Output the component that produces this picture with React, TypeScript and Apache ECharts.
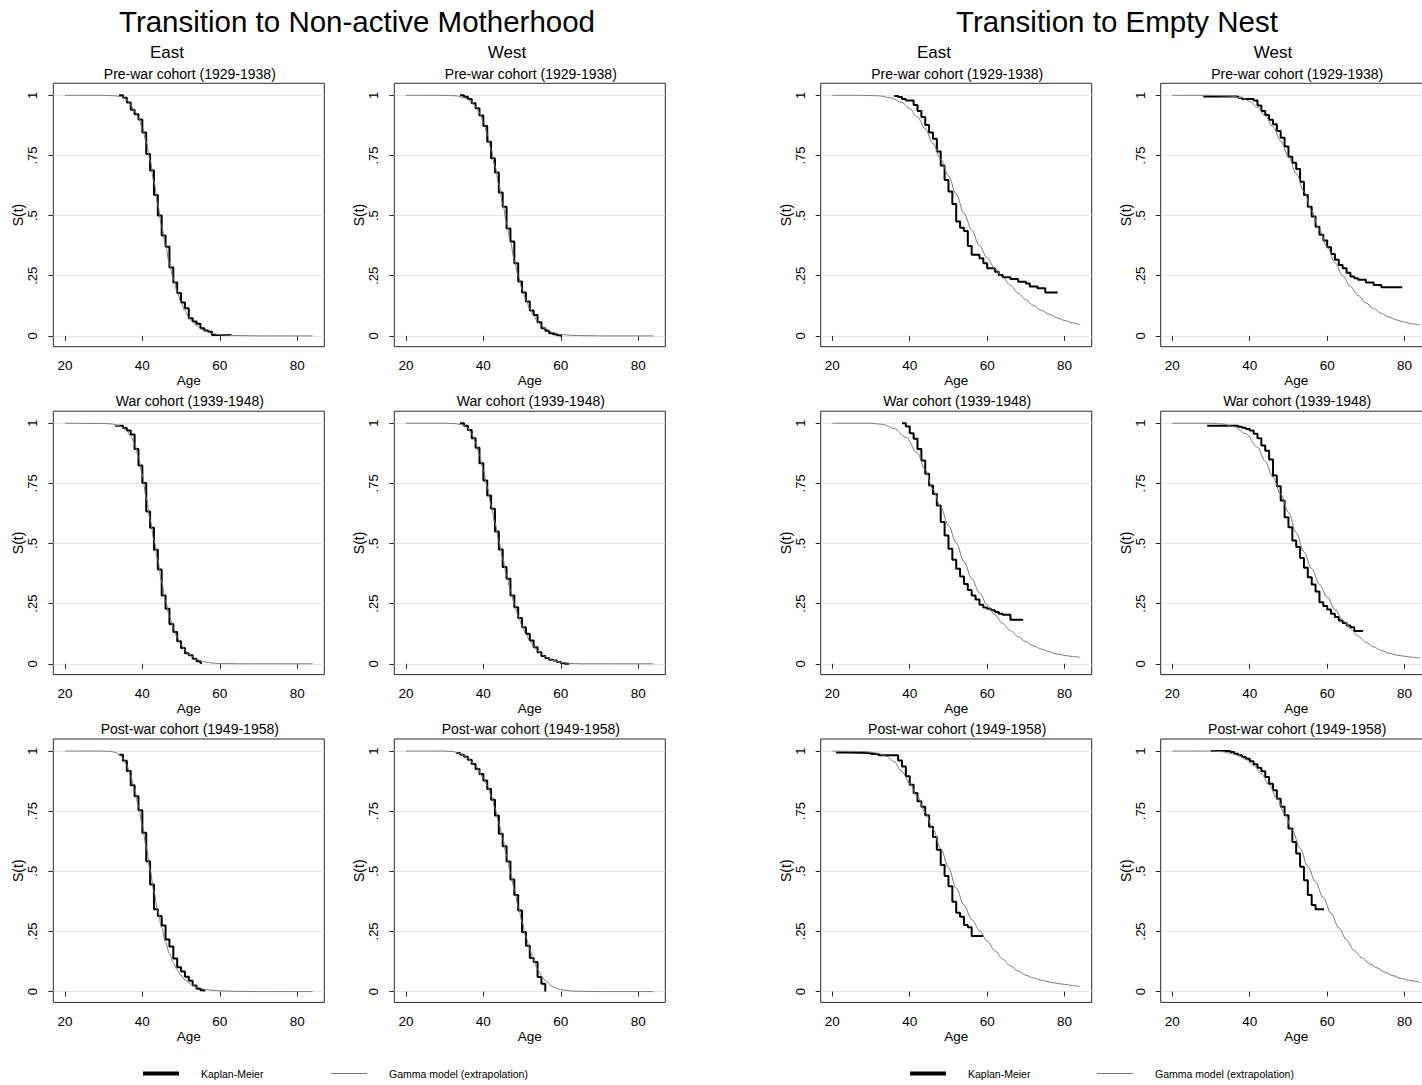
import React, { useEffect, useRef } from 'react';
import * as echarts from 'echarts';

// ---------------- data ----------------
const ageTicks = [20, 40, 60, 80];
const survivalTicks = [0, 0.25, 0.5, 0.75, 1];
const blockTitles = ['Transition to Non-active Motherhood', 'Transition to Empty Nest'];
const regionNames = ['East', 'West', 'East', 'West'];
const cohortNames = ['Pre-war cohort (1929-1938)', 'War cohort (1939-1948)', 'Post-war cohort (1949-1958)'];
const seriesNames = ['Kaplan-Meier', 'Gamma model (extrapolation)'];

// Non-active motherhood, East
const kmMotherEastPre = [[34,1],[35,0.99],[36,0.97],[37,0.94],[38,0.921],[39,0.9],[40,0.845],[41,0.756],[42,0.687],[43,0.586],[44,0.5],[45,0.417],[46,0.371],[47,0.284],[48,0.222],[49,0.178],[50,0.139],[51,0.115],[52,0.073],[53,0.06],[54,0.05],[55,0.032],[56,0.022],[57,0.017],[58,0.004],[63,0.004]];
const gammaMotherEastPre = [[20,1],[30,1],[33,0.998],[35,0.993],[36,0.982],[37,0.96],[38,0.935],[39,0.905],[40,0.865],[41,0.805],[42,0.73],[43,0.64],[44,0.545],[45,0.455],[46,0.375],[47,0.3],[48,0.237],[49,0.183],[50,0.14],[51,0.105],[52,0.078],[53,0.058],[54,0.042],[55,0.03],[56,0.021],[58,0.01],[60,0.005],[63,0.002],[66,0.001],[70,0],[84,0]];
const kmMotherEastWar = [[33,0.99],[35,0.98],[36,0.97],[37,0.953],[38,0.893],[39,0.824],[40,0.752],[41,0.633],[42,0.566],[43,0.474],[44,0.392],[45,0.284],[46,0.229],[47,0.165],[48,0.132],[49,0.094],[50,0.066],[51,0.044],[52,0.035],[53,0.021],[54,0.011],[55,0.003],[55.4,0.003]];
const gammaMotherEastWar = [[20,1],[30,0.999],[32,0.997],[34,0.99],[35,0.982],[36,0.968],[37,0.945],[38,0.915],[39,0.86],[40,0.785],[41,0.69],[42,0.6],[43,0.515],[44,0.43],[45,0.34],[46,0.26],[47,0.198],[48,0.148],[49,0.11],[50,0.08],[51,0.057],[52,0.04],[53,0.028],[54,0.018],[56,0.008],[58,0.003],[60,0.001],[65,0],[84,0]];
const kmMotherEastPost = [[34,0.985],[35,0.96],[36,0.917],[37,0.858],[38,0.812],[39,0.754],[40,0.66],[41,0.542],[42,0.445],[43,0.342],[44,0.314],[45,0.275],[46,0.217],[47,0.187],[48,0.138],[49,0.101],[50,0.083],[51,0.062],[52,0.045],[53,0.025],[54,0.012],[55,0.006],[56,0]];
const gammaMotherEastPost = [[20,1],[30,1],[32,0.998],[33,0.994],[34,0.985],[35,0.97],[36,0.94],[37,0.895],[38,0.838],[39,0.77],[40,0.69],[41,0.6],[42,0.505],[43,0.415],[44,0.335],[45,0.265],[46,0.205],[47,0.158],[48,0.12],[49,0.09],[50,0.067],[51,0.049],[52,0.036],[53,0.026],[54,0.019],[56,0.01],[58,0.005],[60,0.003],[64,0.001],[70,0],[84,0]];

// Non-active motherhood, West
const kmMotherWestPre = [[34,1],[35,0.994],[36,0.985],[37,0.967],[38,0.946],[39,0.916],[40,0.873],[41,0.807],[42,0.738],[43,0.679],[44,0.596],[45,0.537],[46,0.446],[47,0.392],[48,0.302],[49,0.226],[50,0.18],[51,0.143],[52,0.105],[53,0.087],[54,0.057],[55,0.032],[56,0.021],[57,0.011],[58,0.007],[59,0.003],[60,0],[60.3,0]];
const gammaMotherWestPre = [[20,1],[30,1],[33,0.998],[35,0.99],[36,0.983],[37,0.972],[38,0.953],[39,0.927],[40,0.89],[41,0.84],[42,0.775],[43,0.705],[44,0.63],[45,0.55],[46,0.47],[47,0.39],[48,0.315],[49,0.25],[50,0.195],[51,0.15],[52,0.113],[53,0.083],[54,0.06],[55,0.043],[56,0.03],[58,0.014],[60,0.006],[63,0.002],[66,0.001],[70,0],[84,0]];
const kmMotherWestWar = [[34,1],[35,0.99],[36,0.972],[37,0.938],[38,0.898],[39,0.834],[40,0.762],[41,0.7],[42,0.644],[43,0.55],[44,0.475],[45,0.402],[46,0.353],[47,0.284],[48,0.235],[49,0.19],[50,0.152],[51,0.125],[52,0.097],[53,0.069],[54,0.048],[55,0.032],[56,0.024],[57,0.017],[58,0.014],[59,0.007],[60,0.003],[61,0],[62.2,0]];
const gammaMotherWestWar = [[20,1],[30,1],[33,0.998],[35,0.992],[36,0.98],[37,0.957],[38,0.92],[39,0.868],[40,0.805],[41,0.735],[42,0.66],[43,0.585],[44,0.51],[45,0.437],[46,0.368],[47,0.305],[48,0.25],[49,0.2],[50,0.158],[51,0.123],[52,0.095],[53,0.072],[54,0.054],[55,0.04],[56,0.029],[58,0.014],[60,0.006],[62,0.002],[65,0],[84,0]];
const kmMotherWestPost = [[33,0.992],[34,0.985],[35,0.976],[36,0.964],[37,0.946],[38,0.925],[39,0.905],[40,0.877],[41,0.842],[42,0.797],[43,0.732],[44,0.656],[45,0.604],[46,0.541],[47,0.466],[48,0.402],[49,0.337],[50,0.248],[51,0.19],[52,0.14],[53,0.123],[54,0.061],[55,0.033],[56,0]];
const gammaMotherWestPost = [[20,1],[30,1],[32,0.998],[34,0.99],[36,0.97],[38,0.937],[40,0.89],[41,0.858],[42,0.815],[43,0.762],[44,0.7],[45,0.635],[46,0.565],[47,0.495],[48,0.425],[49,0.355],[50,0.29],[51,0.228],[52,0.175],[53,0.13],[54,0.093],[55,0.065],[56,0.045],[58,0.02],[60,0.008],[63,0.002],[66,0.001],[70,0],[84,0]];

// Empty nest, East
const kmNestEastPre = [[36,0.997],[37,0.993],[38,0.985],[39,0.978],[41,0.96],[42,0.935],[43,0.91],[44,0.877],[45,0.845],[46,0.82],[47,0.766],[48,0.708],[49,0.648],[50,0.6],[51,0.548],[52,0.475],[53,0.45],[54,0.436],[55,0.374],[56,0.337],[58,0.323],[59,0.302],[60,0.281],[62,0.267],[63,0.253],[64,0.244],[66,0.236],[68,0.225],[70,0.218],[71,0.205],[73,0.198],[75,0.18],[78.2,0.18]];
const gammaNestEastPre = [[20,1],[28,1],[32,0.998],[35,0.99],[38,0.97],[40,0.945],[42,0.91],[44,0.86],[46,0.8],[48,0.735],[50,0.665],[52,0.59],[54,0.51],[56,0.44],[58,0.375],[60,0.325],[62,0.28],[64,0.243],[66,0.21],[68,0.178],[70,0.15],[72,0.126],[74,0.106],[76,0.09],[78,0.076],[80,0.064],[82,0.054],[84,0.046]];
const kmNestEastWar = [[38,1],[39,0.986],[40,0.958],[41,0.935],[42,0.893],[43,0.845],[44,0.79],[45,0.741],[46,0.706],[47,0.658],[48,0.589],[49,0.533],[50,0.478],[51,0.432],[52,0.395],[53,0.363],[54,0.332],[55,0.307],[56,0.284],[57,0.267],[58,0.245],[59,0.234],[60,0.229],[61,0.222],[62,0.215],[63,0.208],[64,0.204],[66,0.183],[69.3,0.183]];
const gammaNestEastWar = [[20,1],[30,1],[33,0.995],[36,0.978],[39,0.942],[42,0.875],[44,0.806],[46,0.725],[48,0.65],[50,0.575],[52,0.503],[54,0.425],[56,0.355],[58,0.295],[60,0.245],[62,0.203],[64,0.168],[66,0.138],[68,0.113],[70,0.092],[72,0.074],[74,0.061],[76,0.05],[78,0.041],[80,0.035],[82,0.03],[84,0.027]];
const kmNestEastPost = [[21,0.994],[24,0.992],[30,0.988],[32,0.982],[37,0.961],[38,0.936],[39,0.895],[40,0.86],[41,0.826],[42,0.791],[43,0.768],[44,0.733],[45,0.685],[46,0.643],[47,0.59],[48,0.526],[49,0.48],[50,0.438],[51,0.373],[52,0.328],[53,0.311],[54,0.277],[55,0.267],[56,0.231],[59,0.231]];
const gammaNestEastPost = [[20,1],[28,0.998],[30,0.995],[32,0.99],[34,0.978],[36,0.955],[38,0.915],[40,0.865],[42,0.81],[44,0.745],[46,0.675],[48,0.595],[50,0.515],[52,0.43],[54,0.36],[56,0.3],[58,0.255],[60,0.21],[62,0.17],[64,0.135],[66,0.107],[68,0.085],[70,0.068],[72,0.056],[74,0.047],[76,0.04],[78,0.034],[80,0.03],[82,0.025],[84,0.02]];

// Empty nest, West
const kmNestWestPre = [[28,0.995],[37,0.99],[38,0.985],[41,0.978],[42,0.958],[43,0.935],[44,0.918],[45,0.898],[46,0.88],[47,0.852],[48,0.824],[49,0.787],[50,0.745],[51,0.72],[52,0.694],[53,0.641],[54,0.586],[55,0.537],[56,0.496],[57,0.454],[58,0.42],[59,0.396],[60,0.368],[61,0.34],[62,0.316],[63,0.295],[64,0.281],[65,0.262],[66,0.247],[67,0.24],[68,0.233],[70,0.222],[72,0.212],[74,0.202],[79.4,0.2]];
const gammaNestWestPre = [[20,1],[30,1],[35,0.997],[38,0.99],[40,0.975],[42,0.95],[44,0.915],[46,0.87],[48,0.81],[50,0.745],[52,0.675],[54,0.6],[56,0.52],[58,0.44],[60,0.37],[62,0.305],[64,0.25],[66,0.205],[68,0.168],[70,0.137],[72,0.113],[74,0.093],[76,0.078],[78,0.066],[80,0.057],[82,0.05],[84,0.044]];
const kmNestWestWar = [[29,0.99],[37,0.985],[38,0.981],[39,0.976],[40,0.97],[41,0.956],[42,0.938],[43,0.907],[44,0.886],[45,0.849],[46,0.783],[47,0.738],[48,0.679],[49,0.609],[50,0.568],[51,0.512],[52,0.485],[53,0.44],[54,0.399],[55,0.36],[56,0.33],[57,0.3],[58,0.256],[59,0.24],[60,0.226],[61,0.208],[62,0.194],[63,0.18],[64,0.169],[65,0.159],[66,0.152],[67,0.136],[69.3,0.136]];
const gammaNestWestWar = [[20,1],[30,1],[33,0.997],[36,0.985],[39,0.956],[42,0.9],[44,0.842],[46,0.775],[48,0.705],[50,0.63],[52,0.545],[54,0.465],[56,0.395],[58,0.33],[60,0.278],[62,0.226],[64,0.182],[66,0.146],[68,0.115],[70,0.09],[72,0.07],[74,0.055],[76,0.044],[78,0.036],[80,0.031],[82,0.027],[84,0.023]];
const kmNestWestPost = [[30,1],[35,0.996],[36,0.989],[37,0.982],[38,0.975],[39,0.968],[40,0.958],[41,0.945],[42,0.931],[43,0.916],[44,0.892],[45,0.864],[46,0.837],[47,0.802],[48,0.768],[49,0.733],[50,0.678],[51,0.622],[52,0.574],[53,0.519],[54,0.463],[55,0.401],[56,0.36],[57,0.342],[59.2,0.342]];
const gammaNestWestPost = [[20,1],[30,1],[33,0.997],[35,0.99],[37,0.982],[39,0.965],[41,0.94],[43,0.905],[45,0.86],[47,0.805],[49,0.74],[51,0.67],[53,0.595],[55,0.52],[57,0.455],[59,0.39],[61,0.325],[63,0.265],[65,0.215],[67,0.17],[69,0.14],[71,0.115],[73,0.098],[75,0.08],[77,0.066],[79,0.055],[81,0.047],[84,0.038]];

// panel order: rows = cohorts, columns = [motherhood East, motherhood West, nest East, nest West]
const kmPanels = [
  [kmMotherEastPre, kmMotherWestPre, kmNestEastPre, kmNestWestPre],
  [kmMotherEastWar, kmMotherWestWar, kmNestEastWar, kmNestWestWar],
  [kmMotherEastPost, kmMotherWestPost, kmNestEastPost, kmNestWestPost],
];
const gammaPanels = [
  [gammaMotherEastPre, gammaMotherWestPre, gammaNestEastPre, gammaNestWestPre],
  [gammaMotherEastWar, gammaMotherWestWar, gammaNestEastWar, gammaNestWestWar],
  [gammaMotherEastPost, gammaMotherWestPost, gammaNestEastPost, gammaNestWestPost],
];

// ---------------- layout ----------------
const W = 1422;
const H = 1085;
const CANVAS_W = 1445; // wider than the page so the right-most panels are cut off like the original
const FONT = '"Liberation Sans", Arial, Helvetica, sans-serif';
const COL_LEFT = [53.3, 394.3, 820.7, 1160.7];
const ROW_TOP = [83.3, 411.2, 739];
const PLOT_W = 271;
const PLOT_H = 263.4;
const REGION_X = [167, 507, 934, 1273];
const BLOCK_X = [357, 1117];
const KM_COLOR = '#000000';
const GAMMA_COLOR = '#7a7a7a';
const GRID_COLOR = '#e6e6e6';
const BORDER_COLOR = '#2a2a2a';

function fmtSurv(v: number): string {
  if (v === 0) return '0';
  if (v === 1) return '1';
  return String(v).replace(/^0/, '');
}

function buildOption() {
  const grid: any[] = [];
  const xAxis: any[] = [];
  const yAxis: any[] = [];
  const series: any[] = [];
  const graphic: any[] = [];

  for (let r = 0; r < 3; r++) {
    for (let c = 0; c < 4; c++) {
      const idx = r * 4 + c;
      grid.push({
        left: COL_LEFT[c],
        top: ROW_TOP[r],
        width: PLOT_W,
        height: PLOT_H,
        show: true,
        borderColor: BORDER_COLOR,
        borderWidth: 1,
        backgroundColor: 'transparent',
      });
      xAxis.push({
        type: 'value',
        gridIndex: idx,
        min: 17,
        max: 87,
        axisLine: { show: false },
        axisTick: { show: true, customValues: ageTicks, length: 5, lineStyle: { color: BORDER_COLOR } },
        axisLabel: { customValues: ageTicks, margin: 12, fontSize: 13.5, color: '#000', fontFamily: FONT },
        splitLine: { show: false },
        name: 'Age',
        nameLocation: 'middle',
        nameGap: 27,
        nameTextStyle: { fontSize: 13.5, color: '#000', fontFamily: FONT },
      });
      yAxis.push({
        type: 'value',
        gridIndex: idx,
        min: -0.045,
        max: 1.05,
        axisLine: { show: false },
        axisTick: { show: true, customValues: survivalTicks, length: 5, lineStyle: { color: BORDER_COLOR } },
        axisLabel: {
          customValues: survivalTicks,
          rotate: 90,
          margin: 14,
          fontSize: 13,
          color: '#000',
          fontFamily: FONT,
          formatter: (v: number) => fmtSurv(v),
        },
        splitLine: { show: true, lineStyle: { color: GRID_COLOR, width: 1 } },
        name: 'S(t)',
        nameLocation: 'middle',
        nameGap: 26,
        nameTextStyle: { fontSize: 14, color: '#000', fontFamily: FONT },
      });
      series.push({
        type: 'line',
        name: seriesNames[0],
        xAxisIndex: idx,
        yAxisIndex: idx,
        data: kmPanels[r][c],
        step: 'end',
        showSymbol: false,
        symbol: 'none',
        color: KM_COLOR,
        itemStyle: { color: KM_COLOR },
        lineStyle: { color: KM_COLOR, width: 2 },
        z: 3,
      });
      series.push({
        type: 'line',
        name: seriesNames[1],
        xAxisIndex: idx,
        yAxisIndex: idx,
        data: gammaPanels[r][c],
        smooth: 0.35,
        smoothMonotone: 'x',
        showSymbol: false,
        symbol: 'none',
        color: GAMMA_COLOR,
        itemStyle: { color: GAMMA_COLOR },
        lineStyle: { color: GAMMA_COLOR, width: 1 },
        z: 4,
      });
      graphic.push({
        type: 'text',
        x: COL_LEFT[c] + PLOT_W / 2 + 1,
        y: ROW_TOP[r] - 9.8,
        silent: true,
        style: {
          text: cohortNames[r],
          fontSize: 14,
          fontFamily: FONT,
          fill: '#000',
          align: 'center',
          verticalAlign: 'middle',
        },
      });
    }
  }

  for (let b = 0; b < 2; b++) {
    graphic.push({
      type: 'text',
      x: BLOCK_X[b],
      y: 21,
      silent: true,
      style: { text: blockTitles[b], fontSize: 29.5, fontFamily: FONT, fill: '#000', align: 'center', verticalAlign: 'middle' },
    });
  }
  for (let c = 0; c < 4; c++) {
    graphic.push({
      type: 'text',
      x: REGION_X[c],
      y: 52.5,
      silent: true,
      style: { text: regionNames[c], fontSize: 17, fontFamily: FONT, fill: '#000', align: 'center', verticalAlign: 'middle' },
    });
  }

  const legendBase = {
    orient: 'horizontal',
    top: 1068,
    padding: 0,
    itemWidth: 36,
    icon: 'rect',
    selectedMode: false,
    textStyle: { fontSize: 10.5, color: '#000', fontFamily: FONT, padding: [0, 0, 0, 17] },
  };
  const legend = [
    { ...legendBase, left: 143, itemHeight: 4, data: [seriesNames[0]] },
    { ...legendBase, left: 331, itemHeight: 1, data: [seriesNames[1]] },
    { ...legendBase, left: 910, itemHeight: 4, data: [seriesNames[0]] },
    { ...legendBase, left: 1097, itemHeight: 1, data: [seriesNames[1]] },
  ];

  return {
    animation: false,
    backgroundColor: '#ffffff',
    textStyle: { fontFamily: FONT },
    grid,
    xAxis,
    yAxis,
    series,
    legend,
    graphic,
  };
}

export default function App() {
  const ref = useRef<HTMLDivElement>(null);
  useEffect(() => {
    document.body.style.margin = '0';
    document.body.style.overflow = 'hidden';
    if (!ref.current) return;
    const chart = echarts.init(ref.current, undefined, { renderer: 'svg', width: CANVAS_W, height: H });
    chart.setOption(buildOption() as any);
    return () => chart.dispose();
  }, []);
  return (
    <div style={{ width: W, height: H, overflow: 'hidden', position: 'relative' }}>
      <div ref={ref} style={{ width: CANVAS_W, height: H }} />
    </div>
  );
}
